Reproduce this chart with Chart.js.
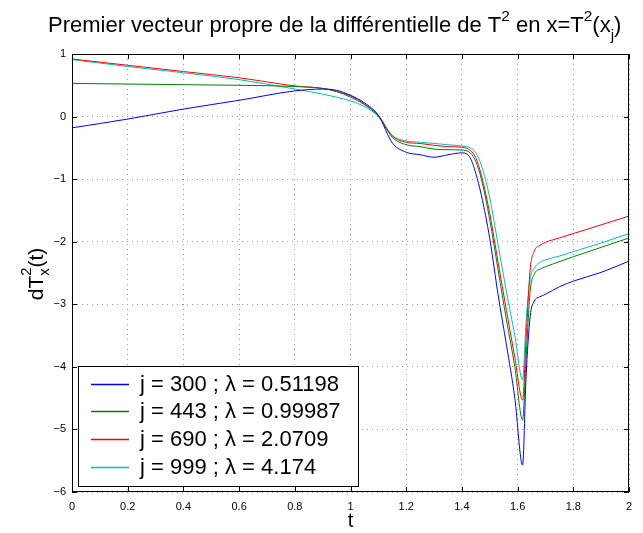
<!DOCTYPE html>
<html>
<head>
<meta charset="utf-8">
<script src="https://cdn.jsdelivr.net/npm/chart.js@4.4.1/dist/chart.umd.min.js"></script>
<style>
    html, body { margin: 0; padding: 0; background: #fff; }
    canvas { display: block; }
</style>
</head>
<body>
<canvas id="chart" width="643" height="533"></canvas>
<script>
// t values (shared by all four curves)
const T = [0, 0.2, 0.4, 0.6, 0.8, 0.9, 0.95, 1.0, 1.05, 1.1, 1.15, 1.2, 1.25, 1.3, 1.35, 1.4,
    1.43, 1.45, 1.47, 1.5, 1.53, 1.56, 1.59, 1.618, 1.63, 1.645, 1.66, 1.68, 1.7, 1.75, 1.8, 1.9, 2.0];

const J300 = [-0.18, -0.04, 0.12, 0.26, 0.41, 0.44, 0.42, 0.34, 0.22, 0.02, -0.42, -0.57, -0.61, -0.65, -0.61, -0.58,
    -0.66, -0.91, -1.26, -1.95, -2.85, -3.65, -4.5, -5.57, -4.2, -3.2, -2.95, -2.88, -2.84, -2.72, -2.63, -2.49, -2.31];
const J443 = [0.53, 0.52, 0.51, 0.50, 0.48, 0.45, 0.40, 0.31, 0.19, 0.01, -0.33, -0.45, -0.48, -0.52, -0.53, -0.535,
    -0.58, -0.72, -1.0, -1.65, -2.45, -3.25, -4.0, -4.85, -3.9, -2.8, -2.52, -2.44, -2.4, -2.32, -2.24, -2.09, -1.94];
const J690 = [0.92, 0.82, 0.72, 0.62, 0.49, 0.45, 0.40, 0.33, 0.20, 0.02, -0.31, -0.41, -0.43, -0.46, -0.48, -0.49,
    -0.54, -0.66, -0.94, -1.55, -2.33, -3.1, -3.85, -4.53, -3.6, -2.45, -2.15, -2.06, -2.01, -1.94, -1.87, -1.73, -1.59];
const J999 = [0.91, 0.80, 0.70, 0.59, 0.44, 0.36, 0.31, 0.25, 0.16, 0.0, -0.30, -0.39, -0.41, -0.43, -0.45, -0.47,
    -0.5, -0.58, -0.78, -1.3, -2.05, -2.8, -3.5, -4.21, -3.3, -2.6, -2.42, -2.33, -2.29, -2.23, -2.16, -2.02, -1.87];

const LABELS = ["j = 300 ; \u03bb = 0.51198", "j = 443 ; \u03bb = 0.99987", "j = 690 ; \u03bb = 2.0709", "j = 999 ; \u03bb = 4.174"];
const COLORS = ["#0000ff", "#008000", "#ff0000", "#00bfbf"];
const VALUES = [J300, J443, J690, J999];

const FONT = '"Liberation Sans", Arial, Helvetica, sans-serif';

// draws text made of pieces, some raised (sup) or lowered (sub)
function richText(ctx, parts, x, y, size) {
    let cx = x;
    for (const p of parts) {
        const s = p.sup || p.sub ? size * 0.7 : size;
        ctx.font = `${s}px ${FONT}`;
        let dy = 0;
        if (p.sup) dy = -size * 0.5;
        if (p.sub) dy = size * 0.35;
        ctx.fillText(p.t, cx, y + dy);
        cx += ctx.measureText(p.t).width;
    }
}

const decorations = {
    id: "decorations",
    afterDatasetsDraw(chart) {
        const { ctx, chartArea: a, scales } = chart;
        ctx.save();
        ctx.strokeStyle = "#000";
        ctx.lineWidth = 1;

        // inward ticks on all four sides
        ctx.beginPath();
        for (const tk of scales.x.ticks) {
            const px = Math.round(scales.x.getPixelForValue(tk.value)) + 0.5;
            ctx.moveTo(px, a.bottom); ctx.lineTo(px, a.bottom - 5);
            ctx.moveTo(px, a.top); ctx.lineTo(px, a.top + 5);
        }
        for (const tk of scales.y.ticks) {
            const py = Math.round(scales.y.getPixelForValue(tk.value)) + 0.5;
            ctx.moveTo(a.left, py); ctx.lineTo(a.left + 5, py);
            ctx.moveTo(a.right, py); ctx.lineTo(a.right - 5, py);
        }
        ctx.stroke();
        ctx.strokeRect(Math.round(a.left) + 0.5, Math.round(a.top) + 0.5,
            Math.round(a.right - a.left) - 1, Math.round(a.bottom - a.top) - 1);

        // legend box, lower left
        const lx = 78, ly = 366, lw = 280, lh = 120;
        ctx.fillStyle = "#fff";
        ctx.fillRect(lx, ly, lw, lh);
        ctx.strokeRect(lx + 0.5, ly + 0.5, lw, lh);
        ctx.font = `22px ${FONT}`;
        ctx.textBaseline = "middle";
        LABELS.forEach((label, i) => {
            const cy = 383.5 + i * 27.7;
            ctx.strokeStyle = COLORS[i];
            ctx.lineWidth = 1.3;
            ctx.beginPath();
            ctx.moveTo(91, Math.round(cy) + 0.5);
            ctx.lineTo(129, Math.round(cy) + 0.5);
            ctx.stroke();
            ctx.fillStyle = "#000";
            ctx.fillText(label, 140, cy + 1);
        });
        ctx.restore();
    },
    afterDraw(chart) {
        const { ctx, chartArea: a } = chart;
        ctx.save();
        ctx.fillStyle = "#000";
        ctx.textBaseline = "alphabetic";

        richText(ctx, [
            { t: "Premier vecteur propre de la diff\u00e9rentielle de T" },
            { t: "2", sup: true },
            { t: " en x=T" },
            { t: "2", sup: true },
            { t: "(x" },
            { t: "j", sub: true },
            { t: ")" },
        ], 48, 32, 22);

        // x label
        ctx.font = `20px ${FONT}`;
        ctx.textAlign = "center";
        ctx.fillText("t", (a.left + a.right) / 2, 527);

        // y label, rotated
        ctx.translate(43, 274);
        ctx.rotate(-Math.PI / 2);
        ctx.textAlign = "left";
        const size = 21;
        ctx.font = `${size}px ${FONT}`;
        const wd = ctx.measureText("dT").width;
        ctx.font = `${size * 0.7}px ${FONT}`;
        const ws = Math.max(ctx.measureText("2").width, ctx.measureText("x").width);
        ctx.font = `${size}px ${FONT}`;
        const wt = ctx.measureText("(t)").width;
        let x0 = -(wd + ws + wt) / 2;
        ctx.fillText("dT", x0, 0);
        ctx.font = `${size * 0.7}px ${FONT}`;
        ctx.fillText("2", x0 + wd, -size * 0.55);
        ctx.fillText("x", x0 + wd, size * 0.3);
        ctx.font = `${size}px ${FONT}`;
        ctx.fillText("(t)", x0 + wd + ws, 0);
        ctx.restore();
    },
};

const gridStyle = {
    color: "#9a9a9a",
    lineWidth: 1,
    drawTicks: false,
};

new Chart(document.getElementById("chart"), {
    type: "line",
    data: {
        labels: T,
        datasets: VALUES.map((vals, i) => ({
            label: LABELS[i],
            data: T.map((t, k) => ({ x: t, y: vals[k] })),
            borderColor: COLORS[i],
            borderWidth: 1,
            pointRadius: 0,
            fill: false,
            cubicInterpolationMode: "monotone",
        })),
    },
    options: {
        responsive: false,
        animation: false,
        layout: { padding: { top: 54, right: 14, left: 0, bottom: 0 } },
        plugins: {
            legend: { display: false },
            title: { display: false },
            tooltip: { enabled: false },
        },
        scales: {
            x: {
                type: "linear",
                min: 0,
                max: 2,
                afterFit: scale => { scale.height = 41; },
                grid: gridStyle,
                border: { display: false, dash: [1, 4] },
                ticks: {
                    stepSize: 0.2,
                    padding: 8,
                    color: "#000",
                    font: { family: FONT, size: 11 },
                    callback: v => String(Number(v.toFixed(1))),
                    maxRotation: 0,
                },
            },
            y: {
                min: -6,
                max: 1,
                afterFit: scale => { scale.width = 72; },
                grid: gridStyle,
                border: { display: false, dash: [1, 4] },
                ticks: {
                    stepSize: 1,
                    padding: 6,
                    color: "#000",
                    font: { family: FONT, size: 11 },
                    callback: v => String(v).replace("-", "\u2212"),
                },
            },
        },
    },
    plugins: [decorations],
});
</script>
</body>
</html>
